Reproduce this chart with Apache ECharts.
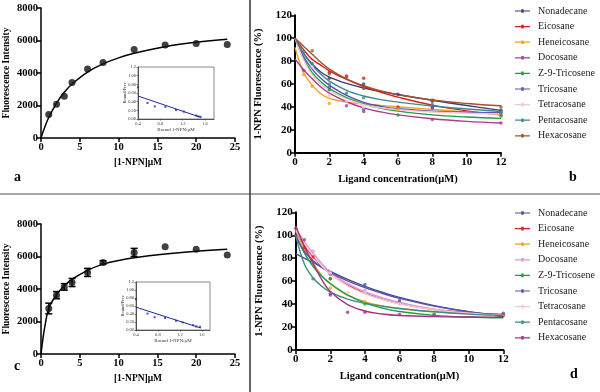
<!DOCTYPE html>
<html><head><meta charset="utf-8">
<script src="https://cdn.jsdelivr.net/npm/echarts@6/dist/echarts.min.js"></script>
<style>html,body{margin:0;padding:0;background:#fff}#c{width:600px;height:392px}</style>
</head><body><div id="c"></div>
<script>
// ---------- Panel a / c (saturation binding) ----------
const aPointsX = [1, 2, 3, 4, 6, 8, 12, 16, 20, 24];
const aPointsY = [1440, 2080, 2570, 3410, 4240, 4650, 5450, 5720, 5820, 5760];
const aFitX = [0, 0.5, 1, 2, 3, 4, 6, 8, 10, 12, 16, 20, 24];
const aFitY = [0, 690, 1260, 2150, 2810, 3320, 4060, 4560, 4930, 5210, 5620, 5890, 6080];
const cPointsX = [1, 2, 3, 4, 6, 8, 12, 16, 20, 24];
const cPointsY = [2800, 3620, 4130, 4400, 5020, 5630, 6250, 6600, 6440, 6090];
const cErr = [330, 220, 200, 250, 250, 100, 250, 0, 0, 0];
const cFitX = [0, 0.25, 0.5, 1, 2, 3, 4, 6, 8, 10, 12, 16, 20, 24];
const cFitY = [0, 950, 1700, 2800, 3650, 4200, 4600, 5150, 5530, 5760, 5920, 6150, 6330, 6450];
// Scatchard insets
const aInsetX = [0.40, 0.57, 0.70, 0.89, 1.08, 1.22, 1.44, 1.48, 1.52];
const aInsetY = [0.73, 0.37, 0.29, 0.28, 0.21, 0.17, 0.08, 0.06, 0.05];
const aInsetLine = [[0.40, 0.53], [1.52, 0.04]];
const cInsetX = [0.40, 0.61, 0.74, 0.93, 1.13, 1.25, 1.44, 1.50, 1.57];
const cInsetY = [0.77, 0.41, 0.32, 0.30, 0.23, 0.19, 0.12, 0.09, 0.08];
const cInsetLine = [[0.40, 0.57], [1.58, 0.05]];
const insetYTicks = ['0.00', '0.20', '0.40', '0.60', '0.80', '1.00', '1.2'];

// ---------- Panel b / d (competitive binding) ----------
const names = ['Nonadecane', 'Eicosane', 'Heneicosane', 'Docosane', 'Z-9-Tricosene', 'Tricosane', 'Tetracosane', 'Pentacosane', 'Hexacosane'];
const fitX = [0, 0.5, 1, 1.5, 2, 3, 4, 5, 6, 8, 10, 12];

const bNonadecane = [100, 87, 77.5, 70.5, 66, 60.5, 56.5, 53.5, 50.8, 45.8, 41.2, 37];
const bEicosane = [100, 90, 81.5, 76.5, 71.5, 64, 57.8, 52.8, 48.5, 41.5, 36.5, 33];
const bHeneicosane = [92, 70, 59, 51.5, 47.5, 44.2, 42.6, 41.3, 40.1, 37.8, 35.6, 33.5];
const bDocosane = [82, 72.5, 64.5, 57.5, 52, 44.5, 39.2, 35.6, 33, 29.6, 27.4, 26];
const bTricosene = [100, 82, 70, 62, 56, 48, 42.5, 38.8, 36.3, 33, 31.2, 30];
const bTricosane = [100, 84, 73, 65, 59, 50, 44, 40.5, 38.4, 36.3, 35.4, 35];
const bTetracosane = [100, 81, 68, 60, 54.5, 47, 42, 39.2, 37.5, 35.5, 34.5, 34];
const bPentacosane = [100, 86.5, 76.5, 68.5, 62.5, 54.5, 49.5, 46.4, 44.2, 40.8, 38.2, 36];
const bHexacosane = [100, 93, 86, 79, 73, 64.5, 58.5, 54, 50.6, 46, 43, 41];

const bNonadecanePts = [[2, 65], [4, 60], [6, 51], [8, 45], [12, 37]];
const bEicosanePts = [[2, 70], [3, 67], [4, 65], [6, 40], [8, 39], [12, 33]];
const bHeneicosanePts = [[0.5, 68], [1, 58], [2, 43], [6, 38], [12, 33]];
const bDocosanePts = [[0.5, 72], [3, 41], [4, 36], [8, 29], [12, 26]];
const bTricosenePts = [[2, 55], [6, 33], [12, 32]];
const bTricosanePts = [[2, 57], [4, 38], [8, 40], [12, 35]];
const bTetracosanePts = [[1, 75], [2, 50], [3, 45], [4, 40]];
const bPentacosanePts = [[0.5, 88], [1, 78], [2, 60], [3, 52], [4, 48], [8, 42], [12, 36]];
const bHexacosanePts = [[1, 89], [2, 69], [3, 66], [4, 56], [8, 46], [12, 40]];

const dNonadecane = [84, 80, 76.3, 72.3, 68.5, 61.5, 55.5, 50.3, 45.8, 38.7, 33.3, 29];
const dEicosane = [103, 91, 81.5, 73.3, 66.5, 56.5, 49.5, 44.3, 40.4, 35.3, 32.5, 31];
const dHeneicosane = [104, 88, 75.5, 65, 57.5, 47.5, 42, 38.5, 36.2, 33.3, 31.7, 31];
const dDocosane = [106, 94.5, 84.5, 75.5, 67.8, 57.8, 50.8, 45.6, 41.5, 35.5, 32, 30];
const dTricosene = [100, 84.5, 73, 64.5, 58, 48, 41, 36.5, 33.5, 30.2, 28.7, 28];
const dTricosane = [100, 86, 78, 72, 67.5, 60.3, 54.3, 49.3, 45, 38.3, 33.4, 30];
const dTetracosane = [105, 92.5, 82.5, 73.5, 66.3, 56, 49, 44, 40.2, 35, 32, 30];
const dPentacosane = [100, 75, 63, 55.5, 50.5, 44.3, 40.6, 38.1, 36.2, 33.3, 31.3, 30];
const dHexacosane = [108, 90.5, 75.5, 61.5, 51, 39.5, 34, 31.4, 30.1, 29.1, 28.7, 28.5];

const dNonadecanePts = [[2, 66], [6, 43], [12, 30]];
const dEicosanePts = [[0.5, 89], [1, 81], [2, 62], [12, 31]];
const dHeneicosanePts = [[2, 54], [4, 42], [12, 31]];
const dDocosanePts = [[1, 86], [2, 67], [4, 52]];
const dTricosenePts = [[2, 62], [4, 40], [8, 31]];
const dTricosanePts = [[0, 100], [4, 57], [12, 32]];
const dTetracosanePts = [[2, 67], [3, 50], [4, 50], [6, 40]];
const dPentacosanePts = [[1, 62], [2, 49], [8, 31]];
const dHexacosanePts = [[0, 106], [0.5, 96], [2, 48], [3, 33], [4, 33], [6, 31]];

const bColors = ['#3d3d78', '#d81e1e', '#f0a020', '#b23a8c', '#1d9e44', '#5a50b4', '#f4c8d0', '#3c8a8c', '#a2522e'];
const dColors = ['#4a4a8e', '#d81e1e', '#f0a020', '#d89ad8', '#1d9e44', '#5a50b4', '#f4c8d0', '#3c8a8c', '#aa2f80'];

const bFits = [bNonadecane, bEicosane, bHeneicosane, bDocosane, bTricosene, bTricosane, bTetracosane, bPentacosane, bHexacosane];
const bPts = [bNonadecanePts, bEicosanePts, bHeneicosanePts, bDocosanePts, bTricosenePts, bTricosanePts, bTetracosanePts, bPentacosanePts, bHexacosanePts];
const dFits = [dNonadecane, dEicosane, dHeneicosane, dDocosane, dTricosene, dTricosane, dTetracosane, dPentacosane, dHexacosane];
const dPts = [dNonadecanePts, dEicosanePts, dHeneicosanePts, dDocosanePts, dTricosenePts, dTricosanePts, dTetracosanePts, dPentacosanePts, dHexacosanePts];

// ---------- build ----------
const SERIF = 'Liberation Serif';
const zip = (xs, ys) => xs.map((x, i) => [x, ys[i]]);

function mainAxisLine(w) { return { show: true, lineStyle: { color: '#000', width: w } }; }
function boldLabel(size, extra) { return Object.assign({ fontFamily: SERIF, fontWeight: 'bold', fontSize: size, color: '#000' }, extra || {}); }

const grids = [
  { left: 41, top: 8, width: 194, height: 130 },          // a
  { left: 138, top: 67, width: 76, height: 52, show: true, backgroundColor: '#fff', borderColor: '#8a8a8a', borderWidth: 1 }, // a inset
  { left: 295, top: 15.3, width: 206, height: 137.4 },    // b
  { left: 41, top: 224, width: 194, height: 130 },        // c
  { left: 136, top: 282, width: 74, height: 48, show: true, backgroundColor: '#fff', borderColor: '#8a8a8a', borderWidth: 1 }, // c inset
  { left: 295.7, top: 212.3, width: 207.6, height: 137.7 } // d
].map(g => Object.assign({ outerBoundsMode: 'none', containLabel: false }, g));

function satX(gi) {
  return { gridIndex: gi, type: 'value', min: 0, max: 25, interval: 5,
    axisLine: mainAxisLine(1.5), axisTick: { length: 4, lineStyle: { width: 1.5, color: '#000' } },
    splitLine: { show: false }, axisLabel: boldLabel(10.5, { margin: 4 }),
    name: '[1-NPN]μM', nameLocation: 'middle', nameGap: 20, nameMoveOverlap: false, nameTextStyle: boldLabel(9.5) };
}
function satY(gi) {
  return { gridIndex: gi, type: 'value', min: 0, max: 8000, interval: 2000,
    axisLine: mainAxisLine(1.5), axisTick: { length: 4, lineStyle: { width: 1.5, color: '#000' } },
    splitLine: { show: false }, axisLabel: boldLabel(10.5, { margin: 3, formatter: v => String(v) }),
    name: 'Fluorescence Intensity', nameLocation: 'middle', nameGap: 29, nameMoveOverlap: false, nameTextStyle: boldLabel(9.5) };
}
function insetX(gi, mx) {
  return { gridIndex: gi, type: 'value', min: 0.4, max: mx, interval: 0.4,
    axisLine: { show: true, onZero: false, lineStyle: { color: '#333', width: 0.8 } },
    axisTick: { length: 1.5, lineStyle: { width: 0.6, color: '#333' } }, splitLine: { show: false },
    axisLabel: { fontFamily: SERIF, fontSize: 4.5, color: '#333', margin: 2, showMaxLabel: false, formatter: v => v.toFixed(1) },
    name: 'Bound 1-NPN/μM', nameLocation: 'middle', nameGap: 8, nameMoveOverlap: false, nameTextStyle: { fontFamily: SERIF, fontSize: 5, color: '#333' } };
}
function insetY(gi) {
  return { gridIndex: gi, type: 'value', min: 0, max: 1.2, interval: 0.2,
    axisLine: { show: true, lineStyle: { color: '#333', width: 0.8 } },
    axisTick: { length: 1.5, lineStyle: { width: 0.6, color: '#333' } }, splitLine: { show: false },
    axisLabel: { fontFamily: SERIF, fontSize: 4.5, color: '#333', margin: 2, formatter: v => insetYTicks[Math.round(v / 0.2)] },
    name: 'Bound/Free', nameLocation: 'middle', nameGap: 11, nameMoveOverlap: false, nameTextStyle: { fontFamily: SERIF, fontSize: 4.5, color: '#333' } };
}
function compX(gi) {
  return { gridIndex: gi, type: 'value', min: 0, max: 12, interval: 2,
    axisLine: mainAxisLine(2), axisTick: { length: 4, lineStyle: { width: 1.5, color: '#000' } },
    splitLine: { show: false }, axisLabel: boldLabel(11, { margin: 4 }),
    name: 'Ligand concentration(μM)', nameLocation: 'middle', nameGap: 21, nameMoveOverlap: false, nameTextStyle: boldLabel(10.5) };
}
function compY(gi) {
  return { gridIndex: gi, type: 'value', min: 0, max: 120, interval: 20,
    axisLine: mainAxisLine(2), axisTick: { length: 4, lineStyle: { width: 1.5, color: '#000' } },
    splitLine: { show: false }, axisLabel: boldLabel(11, { margin: 3 }),
    name: '1-NPN Fluorescence (%)', nameLocation: 'middle', nameGap: 31, nameMoveOverlap: false, nameTextStyle: boldLabel(10.5) };
}

const xAxes = [satX(0), insetX(1, 1.76), compX(2), satX(3), insetX(4, 1.75), compX(5)];
const yAxes = [satY(0), insetY(1), compY(2), satY(3), insetY(4), compY(5)];

const series = [];
// a
series.push({ type: 'line', xAxisIndex: 0, yAxisIndex: 0, data: zip(aFitX, aFitY), smooth: 0.4, symbol: 'none', lineStyle: { color: '#000', width: 1.5 }, z: 3 });
series.push({ type: 'scatter', xAxisIndex: 0, yAxisIndex: 0, data: zip(aPointsX, aPointsY), symbolSize: 7, itemStyle: { color: '#111' }, z: 4 });
// a inset
series.push({ type: 'line', xAxisIndex: 1, yAxisIndex: 1, data: aInsetLine, symbol: 'none', lineStyle: { color: '#1c2a9c', width: 1 }, z: 5 });
series.push({ type: 'scatter', xAxisIndex: 1, yAxisIndex: 1, data: zip(aInsetX, aInsetY), symbol: 'rect', symbolSize: 2, itemStyle: { color: '#1c2a9c' }, z: 6 });
// c
series.push({ type: 'line', xAxisIndex: 3, yAxisIndex: 3, data: zip(cFitX, cFitY), smooth: 0.4, symbol: 'none', lineStyle: { color: '#000', width: 1.5 }, z: 3 });
series.push({ type: 'custom', xAxisIndex: 3, yAxisIndex: 3, z: 4,
  data: cPointsX.map((x, i) => [x, cPointsY[i] - cErr[i], cPointsY[i] + cErr[i]]).filter((d, i) => cErr[i] > 0),
  renderItem: (params, api) => {
    const lo = api.coord([api.value(0), api.value(1)]);
    const hi = api.coord([api.value(0), api.value(2)]);
    const st = { stroke: '#000', lineWidth: 1.5 };
    return { type: 'group', children: [
      { type: 'line', shape: { x1: lo[0], y1: lo[1], x2: hi[0], y2: hi[1] }, style: st },
      { type: 'line', shape: { x1: lo[0] - 3.5, y1: lo[1], x2: lo[0] + 3.5, y2: lo[1] }, style: st },
      { type: 'line', shape: { x1: hi[0] - 3.5, y1: hi[1], x2: hi[0] + 3.5, y2: hi[1] }, style: st }
    ] };
  } });
series.push({ type: 'scatter', xAxisIndex: 3, yAxisIndex: 3, data: zip(cPointsX, cPointsY), symbolSize: 7, itemStyle: { color: '#111' }, z: 5 });
// c inset
series.push({ type: 'line', xAxisIndex: 4, yAxisIndex: 4, data: cInsetLine, symbol: 'none', lineStyle: { color: '#1c2a9c', width: 1 }, z: 5 });
series.push({ type: 'scatter', xAxisIndex: 4, yAxisIndex: 4, data: zip(cInsetX, cInsetY), symbol: 'rect', symbolSize: 2, itemStyle: { color: '#1c2a9c' }, z: 6 });

// b & d
function addComp(prefix, gi, fits, pts, colors) {
  names.forEach((n, i) => {
    series.push({ name: prefix + n, type: 'line', xAxisIndex: gi, yAxisIndex: gi, data: zip(fitX, fits[i]),
      smooth: 0.4, symbol: 'none',
      lineStyle: { color: colors[i], width: 1.4 }, itemStyle: { color: colors[i] }, z: 3 });
    series.push({ name: prefix + n + ' pts', type: 'scatter', xAxisIndex: gi, yAxisIndex: gi, data: pts[i],
      symbol: 'circle', symbolSize: 3.5, itemStyle: { color: colors[i] }, z: 4 });
  });
}
addComp('b:', 2, bFits, bPts, bColors);
addComp('d:', 5, dFits, dPts, dColors);

const legendIcon = 'path://M0,4.4H15V5.6H0Z M6.3,3.2H8.7V6.8H6.3Z M0,0H0.01V0.01H0Z M0,10H0.01V9.99H0Z';
function legend(prefix, top) {
  return { orient: 'vertical', left: 515, top: top, padding: 0, itemWidth: 15, itemHeight: 10, itemGap: 5.6,
    selectedMode: false, data: names.map(n => ({ name: prefix + n, icon: legendIcon })), formatter: s => s.slice(2),
    textStyle: { fontFamily: SERIF, fontSize: 10, color: '#222', padding: [0, 0, 0, 3] } };
}

const letter = (t, x, y) => ({ type: 'text', left: x, top: y, style: { text: t, font: 'bold 14px "Liberation Serif"', fill: '#000' } });

const option = {
  animation: false,
  backgroundColor: '#fff',
  grid: grids, xAxis: xAxes, yAxis: yAxes, series: series,
  legend: [legend('b:', 6), legend('d:', 208)],
  graphic: [
    { type: 'line', shape: { x1: 0, y1: 194, x2: 600, y2: 194 }, style: { stroke: '#555', lineWidth: 1.2 } },
    { type: 'line', shape: { x1: 250, y1: 0, x2: 250, y2: 392 }, style: { stroke: '#333', lineWidth: 1.5 } },
    letter('a', 14, 170), letter('b', 569, 170), letter('c', 14, 359), letter('d', 570, 367)
  ]
};
echarts.init(document.getElementById('c'), null, { renderer: 'canvas' }).setOption(option);
</script></body></html>
